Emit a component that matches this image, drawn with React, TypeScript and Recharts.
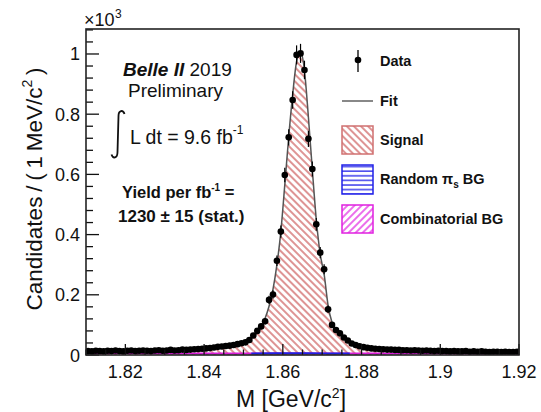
import React from 'react';
import { ComposedChart, XAxis, YAxis, Area, Line, Scatter, ErrorBar } from 'recharts';

// Bin centres (1 MeV bins) in GeV/c^2
const MASS = [
  1.8105, 1.8115, 1.8125, 1.8135, 1.8145, 1.8155, 1.8165, 1.8175, 1.8185, 1.8195,
  1.8205, 1.8215, 1.8225, 1.8235, 1.8245, 1.8255, 1.8265, 1.8275, 1.8285, 1.8295,
  1.8305, 1.8315, 1.8325, 1.8335, 1.8345, 1.8355, 1.8365, 1.8375, 1.8385, 1.8395,
  1.8405, 1.8415, 1.8425, 1.8435, 1.8445, 1.8455, 1.8465, 1.8475, 1.8485, 1.8495,
  1.8505, 1.8515, 1.8525, 1.8535, 1.8545, 1.8555, 1.8565, 1.8575, 1.8585, 1.8595,
  1.8605, 1.8615, 1.8625, 1.8635, 1.8645, 1.8655, 1.8665, 1.8675, 1.8685, 1.8695,
  1.8705, 1.8715, 1.8725, 1.8735, 1.8745, 1.8755, 1.8765, 1.8775, 1.8785, 1.8795,
  1.8805, 1.8815, 1.8825, 1.8835, 1.8845, 1.8855, 1.8865, 1.8875, 1.8885, 1.8895,
  1.8905, 1.8915, 1.8925, 1.8935, 1.8945, 1.8955, 1.8965, 1.8975, 1.8985, 1.8995,
  1.9005, 1.9015, 1.9025, 1.9035, 1.9045, 1.9055, 1.9065, 1.9075, 1.9085, 1.9095,
  1.9105, 1.9115, 1.9125, 1.9135, 1.9145, 1.9155, 1.9165, 1.9175, 1.9185, 1.9195,
];

// Data candidates per bin
const DATA = [
  13, 12, 14, 13, 12, 14, 13, 15, 13, 12,
  14, 15, 13, 14, 15, 14, 13, 15, 16, 14,
  15, 17, 15, 16, 18, 17, 18, 19, 20, 21,
  22, 23, 25, 27, 28, 30, 31, 33, 36, 39,
  42, 50, 65, 80, 95, 112, 183, 201, 313, 410,
  598, 723, 847, 997, 1002, 947, 718, 618, 434, 340,
  285, 152, 100, 83, 72, 58, 48, 38, 33, 29,
  26, 24, 22, 21, 20, 19, 18, 18, 17, 17,
  16, 16, 15, 16, 15, 14, 15, 14, 13, 14,
  13, 13, 12, 13, 12, 12, 13, 11, 12, 11,
  12, 11, 10, 11, 11, 10, 11, 10, 10, 11,
];

// Total fit per bin
const FIT = [
  12.5, 12.6, 12.7, 12.8, 12.9, 13.0, 13.1, 13.2, 13.3, 13.4,
  13.5, 13.6, 13.7, 13.9, 14.0, 14.2, 14.4, 14.6, 14.8, 15.0,
  15.3, 15.6, 15.9, 16.3, 16.7, 17.1, 17.6, 18.1, 18.7, 19.4,
  20.2, 21.1, 22.1, 23.3, 24.7, 26.3, 28.2, 30.5, 33.5, 37.5,
  43, 50, 60, 74, 94, 122, 162, 218, 300, 410,
  565, 725, 865, 975, 1008, 945, 790, 615, 450, 335,
  268, 165, 108, 82, 68, 57, 48, 41, 35, 31,
  28, 25.5, 23.5, 22, 20.8, 19.8, 19, 18.2, 17.5, 16.9,
  16.4, 15.9, 15.5, 15.1, 14.7, 14.4, 14.1, 13.8, 13.5, 13.2,
  13, 12.8, 12.6, 12.4, 12.2, 12, 11.8, 11.6, 11.5, 11.3,
  11.2, 11.0, 10.9, 10.8, 10.7, 10.6, 10.5, 10.4, 10.3, 10.2,
];

// Combinatorial background
const COMB_M = [1.81, 1.83, 1.85, 1.87, 1.89, 1.92];
const COMB_V = [5.5, 5.3, 5.1, 4.9, 4.7, 4.5];

// Random pi_s background (stacked on combinatorial)
const RAND_M = [1.852, 1.858, 1.8645, 1.871, 1.877];
const RAND_V = [5.2, 5.6, 6.0, 5.4, 4.9];

const X_TICKS = [
  1.81, 1.815, 1.82, 1.825, 1.83, 1.835, 1.84, 1.845, 1.85, 1.855, 1.86, 1.865,
  1.87, 1.875, 1.88, 1.885, 1.89, 1.895, 1.9, 1.905, 1.91, 1.915, 1.92,
];
const Y_TICKS = [
  0, 40, 80, 120, 160, 200, 240, 280, 320, 360, 400, 440, 480, 520, 560, 600, 640,
  680, 720, 760, 800, 840, 880, 920, 960, 1000, 1040, 1080,
];

const W = 541;
const H = 412;
const PL = 86;
const PR = 519;
const PT = 29;
const PB = 355;
const FONT = '"Liberation Sans", Arial, Helvetica, sans-serif';

const rows = MASS.map((m, i) => ({ m, data: DATA[i], err: Math.sqrt(DATA[i]), fit: FIT[i] }));
const combRows = COMB_M.map((m, i) => ({ m, v: COMB_V[i] }));
const randRows = RAND_M.map((m, i) => ({ m, v: RAND_V[i] }));

const XTick = (p: any) => {
  const v = p.payload.value;
  const h = Math.round(v * 100);
  const major = Math.abs(h - v * 100) < 1e-6 && h % 2 === 0;
  const label = String(Number(v.toFixed(2)));
  return (
    <g>
      <line x1={p.x} x2={p.x} y1={PB} y2={PB - (major ? 11 : 5.5)} stroke="#111" strokeWidth={1.3} />
      {major && (
        <text x={p.x} y={378} textAnchor="middle" fontSize={18} fontFamily={FONT} fill="#111">
          {label}
        </text>
      )}
    </g>
  );
};

const YTick = (p: any) => {
  const v = p.payload.value;
  const major = v % 200 === 0;
  const label = String(v / 1000);
  return (
    <g>
      <line x1={PL} x2={PL + (major ? 13 : 7)} y1={p.y} y2={p.y} stroke="#111" strokeWidth={1.3} />
      {major && (
        <text x={80} y={p.y + 6.5} textAnchor="end" fontSize={18} fontFamily={FONT} fill="#111">
          {label}
        </text>
      )}
    </g>
  );
};

const Dot = (p: any) => <circle cx={p.cx} cy={p.cy} r={3.3} fill="#000" />;

export default function App() {
  return (
    <div style={{ position: 'absolute', left: 0, top: 0, width: W, height: H, background: '#fff' }}>
      <svg width={0} height={0} style={{ position: 'absolute' }}>
        <defs>
          <pattern id="sigHatch" patternUnits="userSpaceOnUse" width="5" height="5" patternTransform="rotate(-45)">
            <line x1="1" y1="0" x2="1" y2="5" stroke="#cc5a5a" strokeWidth="1.3" />
          </pattern>
          <pattern id="combHatch" patternUnits="userSpaceOnUse" width="5" height="5" patternTransform="rotate(45)">
            <line x1="1" y1="0" x2="1" y2="5" stroke="#e020e0" strokeWidth="1.3" />
          </pattern>
          <pattern id="randHatch" patternUnits="userSpaceOnUse" width="5" height="4.6">
            <line x1="0" y1="1" x2="5" y2="1" stroke="#2020e8" strokeWidth="1.3" />
          </pattern>
        </defs>
      </svg>
      <ComposedChart width={W} height={H} data={rows} margin={{ top: PT, right: W - PR, left: 0, bottom: 0 }}>
        <XAxis
          type="number"
          dataKey="m"
          domain={[1.81, 1.92]}
          ticks={X_TICKS}
          interval={0}
          height={H - PB}
          tick={XTick}
          tickLine={false}
          axisLine={false}
          allowDataOverflow
        />
        <YAxis
          type="number"
          domain={[0, 1083]}
          ticks={Y_TICKS}
          interval={0}
          width={PL}
          tick={YTick}
          tickLine={false}
          axisLine={false}
          allowDataOverflow
        />
        <Area
          type="monotone"
          dataKey="fit"
          fill="url(#sigHatch)"
          fillOpacity={1}
          stroke="none"
          isAnimationActive={false}
        />
        <Line data={combRows} type="monotone" dataKey="v" stroke="#d81cd8" strokeWidth={2} dot={false} isAnimationActive={false} />
        <Line data={randRows} type="monotone" dataKey="v" stroke="#2020e0" strokeWidth={2} dot={false} isAnimationActive={false} />
        <Line type="monotone" dataKey="fit" stroke="#555" strokeWidth={1.5} dot={false} isAnimationActive={false} />
        <Scatter dataKey="data" shape={Dot} isAnimationActive={false}>
          <ErrorBar dataKey="err" direction="y" width={0} stroke="#000" strokeWidth={1.2} />
        </Scatter>
      </ComposedChart>
      <svg
        width={W}
        height={H}
        style={{ position: 'absolute', left: 0, top: 0, pointerEvents: 'none' }}
        fontFamily={FONT}
      >
        <rect x={PL} y={PT} width={PR - PL} height={PB - PT} fill="none" stroke="#222" strokeWidth={1.6} />
        {/* x10^3 */}
        <text x={84} y={26} fontSize={18} fill="#111">×10</text>
        <text x={115} y={18} fontSize={12} fill="#111">3</text>
        {/* axis titles */}
        <text x={291} y={407} textAnchor="middle" fontSize={23} fill="#111">
          M [GeV/c<tspan fontSize={14} dy={-9}>2</tspan>
          <tspan dy={9}>]</tspan>
        </text>
        <text
          transform="translate(42,189) rotate(-90)"
          textAnchor="middle"
          fontSize={22.5}
          wordSpacing={-1.5}
          fill="#111"
        >
          Candidates / ( 1 MeV/c<tspan fontSize={14} dy={-10}>2</tspan>
          <tspan dy={10}> )</tspan>
        </text>
        {/* annotation */}
        <text x={123} y={76} fontSize={19} fill="#111">
          <tspan fontWeight="bold" fontStyle="italic">Belle II</tspan> 2019
        </text>
        <text x={128} y={97} fontSize={19} fill="#111">Preliminary</text>
        <path
          d="M 124.5 114 C 123 109.5 118.5 110 118.5 116 L 117.5 152 C 117.5 158.5 113 159 111.5 154.5"
          stroke="#111"
          strokeWidth={1.8}
          fill="none"
        />
        <text x={130} y={144} fontSize={19.5} fill="#111">
          L dt = 9.6 fb<tspan fontSize={12} dy={-10}>-1</tspan>
        </text>
        <text x={122} y={198} fontSize={16.5} fontWeight="bold" fill="#111">
          Yield per fb<tspan fontSize={10} dy={-7}>-1</tspan>
          <tspan dy={7}> =</tspan>
        </text>
        <text x={118} y={222} fontSize={17} fontWeight="bold" fill="#111">
          1230 ± 15 (stat.)
        </text>
        {/* legend */}
        <line x1={358} x2={358} y1={50} y2={72} stroke="#000" strokeWidth={1.3} />
        <circle cx={358} cy={60} r={3.3} fill="#000" />
        <text x={380} y={66} fontSize={14.5} fontWeight="bold" fill="#111">Data</text>
        <line x1={342} x2={373} y1={101} y2={101} stroke="#555" strokeWidth={1.4} />
        <text x={380} y={106} fontSize={14.5} fontWeight="bold" fill="#111">Fit</text>
        <rect x={342} y={126} width={31} height={28} fill="url(#sigHatch)" stroke="#d07070" strokeWidth={1.5} />
        <text x={380} y={145} fontSize={14.5} fontWeight="bold" fill="#111">Signal</text>
        <rect x={342} y={165} width={31} height={29} fill="url(#randHatch)" stroke="#2020e8" strokeWidth={1.5} />
        <text x={380} y={184} fontSize={14.5} fontWeight="bold" fill="#111">
          Random  π<tspan fontSize={10} dy={4}>s</tspan>
          <tspan dy={-4}> BG</tspan>
        </text>
        <rect x={342} y={205} width={31} height={28} fill="url(#combHatch)" stroke="#e020e0" strokeWidth={1.5} />
        <text x={380} y={224} fontSize={14.5} fontWeight="bold" fill="#111">Combinatorial BG</text>
      </svg>
    </div>
  );
}
